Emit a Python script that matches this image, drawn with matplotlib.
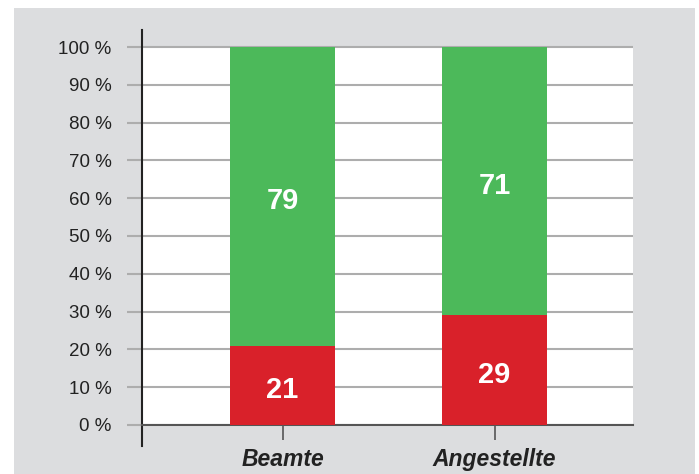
import matplotlib.pyplot as plt
import matplotlib.patches as mpatches

# data
groups = ["Beamte", "Angestellte"]
red_vals = [21, 29]
green_vals = [79, 71]
yticks = [0, 10, 20, 30, 40, 50, 60, 70, 80, 90, 100]
ytick_labels = ["0 %", "10 %", "20 %", "30 %", "40 %", "50 %", "60 %", "70 %", "80 %", "90 %", "100 %"]

plt.rcParams['font.family'] = ['Liberation Sans', 'DejaVu Sans']

bg = "#dcdddf"
red = "#d9212a"
green = "#4cb95a"
grid_col = "#adadad"
dark = "#555555"

fig = plt.figure(figsize=(6.99, 4.74), dpi=100)
fig.patch.set_facecolor("white")
# grey panel behind the chart
fig.patches.append(mpatches.Rectangle((14 / 699, 0), (695 - 14) / 699, (474 - 8) / 474,
                                      transform=fig.transFigure, facecolor=bg,
                                      edgecolor="none", zorder=-10))

ax = fig.add_axes([142 / 699, 28 / 474, (633 - 142) / 699, (446 - 30) / 474])
ax.set_facecolor(bg)

# spines first (moving a spine resets the tick objects)
ax.spines["top"].set_visible(False)
ax.spines["right"].set_visible(False)
ax.spines["bottom"].set_position(("data", 0))
ax.spines["bottom"].set_color(dark)
ax.spines["bottom"].set_linewidth(1.5)
ax.spines["left"].set_color("#222222")
ax.spines["left"].set_linewidth(1.5)

x = range(len(groups))
ax.bar(x, red_vals, width=0.495, color=red, zorder=3)
ax.bar(x, green_vals, width=0.495, bottom=red_vals, color=green, zorder=3)

# value labels, baseline set a little below the segment middle
shift = 0.8 + 10 / 3.78
for i in x:
    ax.text(i, red_vals[i] / 2 - shift, str(red_vals[i]), color="white", fontsize=21,
            fontweight="bold", ha="center", va="baseline", zorder=4)
    ax.text(i, red_vals[i] + green_vals[i] / 2 - shift, str(green_vals[i]), color="white",
            fontsize=21, fontweight="bold", ha="center", va="baseline", zorder=4)

ax.set_xlim(-0.663, 1.653)
ax.set_ylim(-5.56, 104.5)

# white plotting field between 0 and 100
ax.axhspan(0, 100, color="white", zorder=0.2)
ax.set_axisbelow(True)
ax.yaxis.grid(True, color=grid_col, linewidth=1.5)

ax.tick_params(axis="y", direction="out", length=10.8, width=1.5, color=grid_col,
               labelsize=13.5, labelcolor="#222222", pad=11)
ax.tick_params(axis="x", direction="out", length=10.8, width=1.2, color=dark, pad=6)
ax.set_yticks(yticks)
ax.set_yticklabels(ytick_labels)
ax.yaxis.get_major_ticks()[0].tick1line.set_color(dark)

ax.set_xticks(list(x))
ax.set_xticklabels(groups, fontsize=16.5, fontweight="bold", fontstyle="italic", color="#222222")

fig.savefig("out.png", dpi=100, facecolor=fig.get_facecolor())
